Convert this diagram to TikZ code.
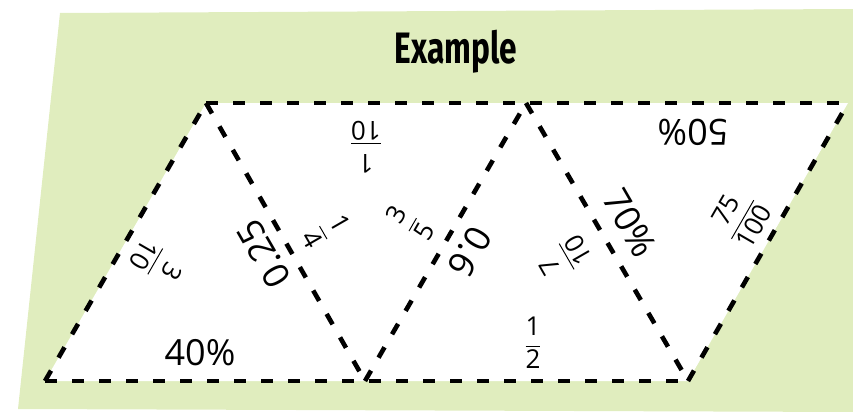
\documentclass[tikz,border=0pt]{standalone}
\usepackage{amsmath}
\usepackage{graphicx}
\usepackage{fontspec}
\setmainfont{Open Sans}
\newfontfamily\titlefont{Fira Sans}
\usepackage{tikz}
\usetikzlibrary{positioning}

\definecolor{sheetgreen}{HTML}{E0EDBE}
\newcommand{\fr}[2]{$\dfrac{\text{#1}}{\text{#2}}$}

\begin{document}
\begin{tikzpicture}[
    x=0.5pt, y=-0.5pt,
    cut/.style={
      draw,
      line width=2.3pt,
      dash pattern=on 6pt off 7.5pt
    },
    big/.style={font=\fontsize{18}{18}\selectfont, inner sep=0pt},
    frac/.style={font=\fontsize{13}{13}\selectfont, inner sep=0pt}
  ]
  \useasboundingbox (0,0) rectangle (853,412);
  \fill[sheetgreen] (60,13) -- (853,9) -- (853,412) -- (18,409) -- cycle;
  \node[font=\titlefont\bfseries\fontsize{22}{22}\selectfont, anchor=base] (title) at (456,63) {\scalebox{0.72}[1]{Example}};

  \coordinate (b0) at (45,381);
  \coordinate (b1) at (365,381);
  \coordinate (b2) at (688,381);
  \coordinate (t0) at (206,103);
  \coordinate (t1) at (526,103);
  \coordinate (t2) at (848,103);
  \fill[white] (b0) -- (t0) -- (t2) -- (b2) -- cycle;
  \draw[cut] (b0) -- (b2);
  \draw[cut] (t0) -- (t2);
  \draw[cut] (b0) -- (t0);
  \draw[cut] (t0) -- (b1);
  \draw[cut] (b1) -- (t1);
  \draw[cut] (t1) -- (b2);
  \draw[cut] (b2) -- (t2);

  \node[frac, rotate=-120] (threetenths) at (158,263) {\fr{3}{10}};
  \node[big] (forty) at (200,353) {40\%};
  \node[big, rotate=120] (quarterdec) at (264,254) {0.25};
  \node[frac, rotate=-60] (quarter) at (326,231) {\fr{1}{4}};
  \node[frac, rotate=180] (tenth) at (366,147) {\fr{1}{10}};
  \node[frac, rotate=60] (threefifths) at (410,223) {\fr{3}{5}};
  \node[big, rotate=-120] (sixdec) at (470,252) {0.6};
  \node[frac] (half) at (533,343) {\fr{1}{2}};
  \node[frac, rotate=120] (seventenths) at (564,258) {\fr{7}{10}};
  \node[big, rotate=-60] (seventy) at (630,223) {70\%};
  \node[big, rotate=180] (fifty) at (693,132) {50\%};
  \node[frac, rotate=60] (threequarters) at (740,218) {\fr{75}{100}};
\end{tikzpicture}
\end{document}
